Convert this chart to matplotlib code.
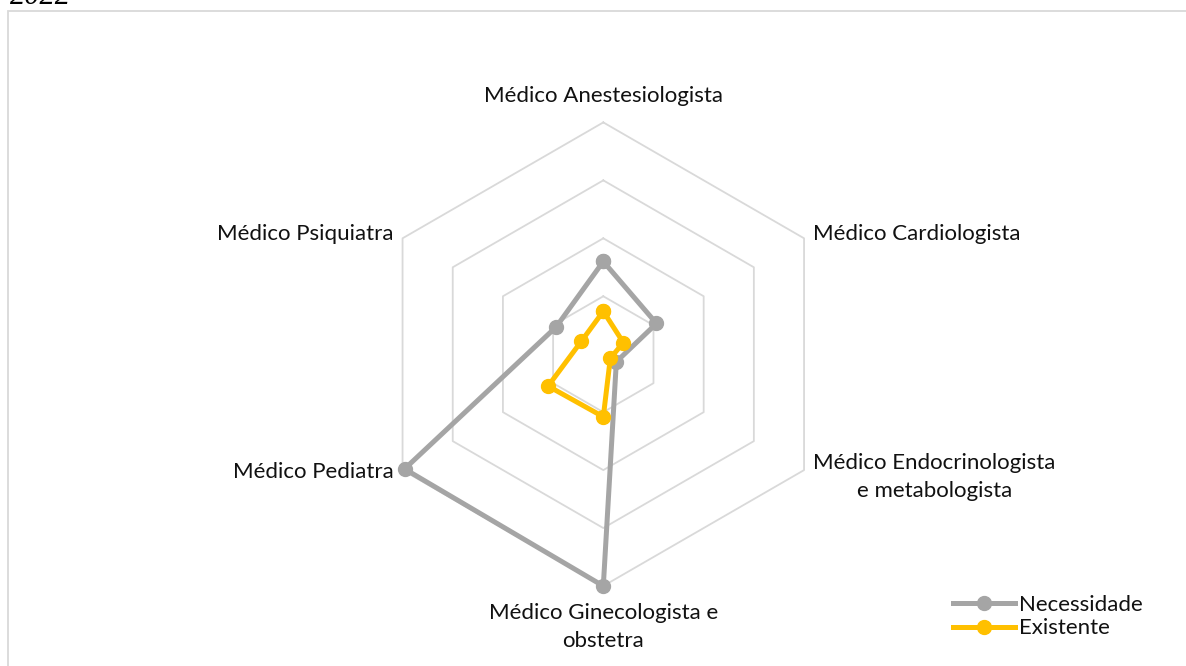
import numpy as np
import matplotlib
matplotlib.use("Agg")
import matplotlib.pyplot as plt
from matplotlib.patches import Rectangle

categories = ["Médico Anestesiologista", "Médico Cardiologista",
              "Médico Endocrinologista\ne metabologista",
              "Médico Ginecologista e\nobstetra", "Médico Pediatra",
              "Médico Psiquiatra"]
necessidade = [8.0, 5.3, 1.3, 20.0, 19.8, 4.7]
existente = [3.7, 2.0, 0.7, 5.4, 5.5, 2.2]
ring_values = [5, 10, 15, 20]
series_names = ["Necessidade", "Existente"]

plt.rcParams['font.family'] = ['Lato', 'DejaVu Sans']

fig = plt.figure(figsize=(11.86, 6.66), dpi=100)
W, H = 1186, 666
cx, cy, R = 603.3, 354.2, 231.8
ax = fig.add_axes([(cx - R) / W, (H - cy - R) / H, 2 * R / W, 2 * R / H], projection='polar')
ax.set_theta_zero_location('N')
ax.set_theta_direction(-1)
ax.set_ylim(0, ring_values[-1])
ax.grid(False)
ax.set_xticks([])
ax.set_yticks([])
ax.spines['polar'].set_visible(False)
ax.patch.set_alpha(0)

n = len(categories)
angles = np.arange(n) * 2 * np.pi / n
closed = np.append(angles, angles[0])

for rv in ring_values:
    ax.plot(closed, [rv] * (n + 1), color='#D9D9D9', lw=1.3, zorder=1, clip_on=False)

ax.plot(closed, necessidade + necessidade[:1], color='#A5A5A5', lw=3.6,
        marker='o', ms=10, zorder=3, label=series_names[0], solid_joinstyle='round',
        clip_on=False)
ax.plot(closed, existente + existente[:1], color='#FFC000', lw=3.6,
        marker='o', ms=10, zorder=4, label=series_names[1], solid_joinstyle='round',
        clip_on=False)

fs = 16
txt_color = '#111111'
rmax = ring_values[-1]
label_cfg = [
    dict(off=(0, 26), ha='center', va='center'),
    dict(off=(9, 4), ha='left', va='center'),
    dict(off=(9, -7), ha='left', va='center'),
    dict(off=(0, -17), ha='center', va='top'),
    dict(off=(-9, -2), ha='right', va='center'),
    dict(off=(-9, 4), ha='right', va='center'),
]
for a, lab, cfg in zip(angles, categories, label_cfg):
    ax.annotate(lab, xy=(a, rmax), xytext=cfg['off'], textcoords='offset pixels',
                ha=cfg['ha'], va=cfg['va'], fontsize=fs, color=txt_color,
                multialignment='center', linespacing=1.5, annotation_clip=False)

leg = fig.legend(loc='upper left', bbox_to_anchor=(953 / W, 1 - 595 / H), frameon=False,
                 fontsize=fs, handlelength=2.8, handletextpad=0.15, labelspacing=0.15,
                 borderpad=0, borderaxespad=0)
for t in leg.get_texts():
    t.set_color(txt_color)

fig.patches.append(Rectangle((8 / W, -0.1), 1.2, 1 - 11 / H + 0.1, transform=fig.transFigure,
                             fill=False, edgecolor='#D9D9D9', lw=1.3))
fig.text(10 / W, 1 - 4 / H, '2022', fontsize=22, family='Liberation Serif',
         style='italic', va='baseline', ha='left', color='black')

fig.savefig('out.png', dpi=100)
